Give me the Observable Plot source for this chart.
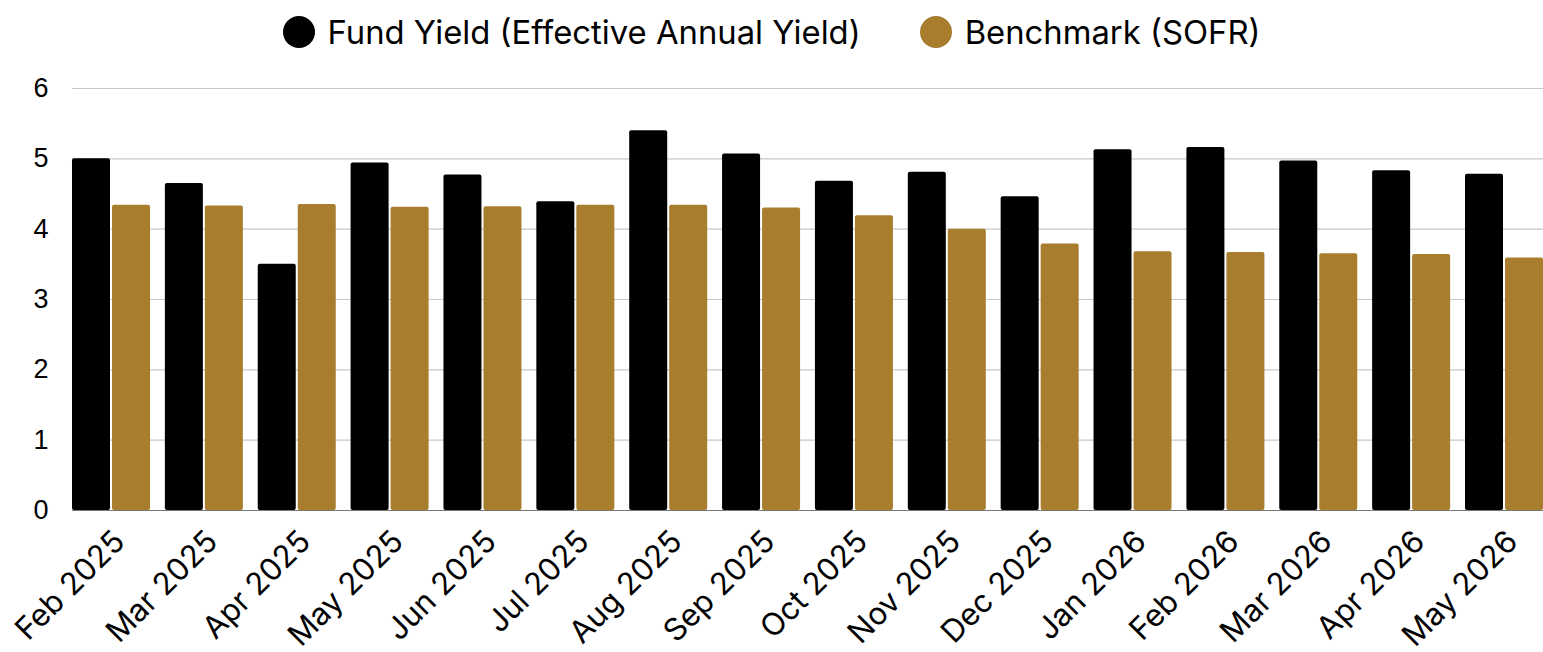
<!DOCTYPE html>
<html>
<head>
<meta charset="utf-8">
<script src="https://cdn.jsdelivr.net/npm/d3@7"></script>
<script src="https://cdn.jsdelivr.net/npm/@observablehq/plot@0.6"></script>
<style>
  html, body { margin: 0; padding: 0; background: #fff; }
  body { width: 1543px; height: 652px; overflow: hidden; font-family: Inter, "Open Sans", sans-serif; }
  #legend { height: 62px; display: flex; justify-content: center; align-items: center; gap: 59px; font-size: 32.8px; color: #000; padding-top: 2px; box-sizing: border-box; }
  .item { display: flex; align-items: center; gap: 13px; }
  .sw { width: 32px; height: 32px; border-radius: 50%; display: inline-block; }
  #chart svg { display: block; }
</style>
</head>
<body>
<div id="legend"></div>
<div id="chart"></div>
<script>
const months = ["Feb 2025","Mar 2025","Apr 2025","May 2025","Jun 2025","Jul 2025","Aug 2025","Sep 2025","Oct 2025","Nov 2025","Dec 2025","Jan 2026","Feb 2026","Mar 2026","Apr 2026","May 2026"];
const fundYield = [5.00, 4.65, 3.50, 4.94, 4.77, 4.39, 5.40, 5.07, 4.68, 4.81, 4.46, 5.13, 5.16, 4.97, 4.83, 4.78];
const sofr = [4.34, 4.33, 4.35, 4.31, 4.32, 4.34, 4.34, 4.30, 4.19, 4.00, 3.79, 3.68, 3.67, 3.65, 3.64, 3.59];
const seriesNames = ["Fund Yield (Effective Annual Yield)", "Benchmark (SOFR)"];
const seriesColors = ["#000000", "#A87E2E"];
const yTicks = [0, 1, 2, 3, 4, 5, 6];

const legend = document.getElementById("legend");
seriesNames.forEach((n, i) => {
  const it = document.createElement("div");
  it.className = "item";
  it.innerHTML = `<span class="sw" style="background:${seriesColors[i]}"></span><span>${n}</span>`;
  legend.appendChild(it);
});

const fundData = months.map((m, i) => ({month: m, value: fundYield[i]}));
const sofrData = months.map((m, i) => ({month: m, value: sofr[i]}));

const chart = Plot.plot({
  width: 1543,
  height: 590,
  marginTop: 26,
  marginBottom: 142,
  marginLeft: 72,
  marginRight: 0,
  style: {fontFamily: "Inter, 'Open Sans', sans-serif", background: "#fff", overflow: "visible"},
  x: {domain: months, paddingInner: 0.16, paddingOuter: 0, round: false, label: null},
  y: {domain: [0, 6], label: null},
  marks: [
    Plot.ruleY(yTicks.filter(d => d > 0), {stroke: "#c8c8c8", strokeWidth: 1.2}),
    Plot.barY(fundData, {x: "month", y: "value", fill: seriesColors[0], insetRight: 40, rx: 2}),
    Plot.barY(sofrData, {x: "month", y: "value", fill: seriesColors[1], insetLeft: 40, rx: 2}),
    Plot.ruleY([0], {stroke: "#777", strokeWidth: 1.2}),
    Plot.axisY({ticks: yTicks, tickFormat: d3.format("d"), tickSize: 0, tickPadding: 24, fontSize: 27, fontFamily: "'Liberation Sans', Arial, sans-serif", label: null}),
    Plot.axisX({tickSize: 0, tickRotate: -45, tickPadding: 26, dx: 8, fontSize: 31, label: null})
  ]
});
document.getElementById("chart").appendChild(chart);
</script>
</body>
</html>
